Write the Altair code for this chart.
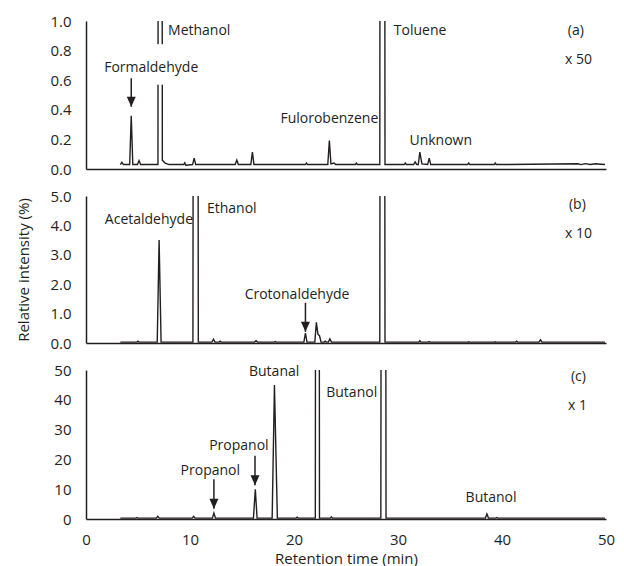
import altair as alt
import pandas as pd

INK = "#231f20"
FONT = "Open Sans"

# ---- chromatogram vertices (retention time min, relative intensity %) ----
trace_a = [(3.3, .03), (3.45, .045), (3.6, .03), (4.2, .03), (4.35, .36), (4.5, .03),
           (4.95, .03), (5.1, .057), (5.25, .03), (6.92, .03), (7.12, 20), (7.34, .06),
           (7.6, .04), (8.0, .03), (9.4, .03), (9.5, .042), (9.6, .025), (10.25, .03),
           (10.4, .073), (10.55, .03), (14.35, .03), (14.5, .06), (14.65, .03),
           (15.85, .03), (16.0, .114), (16.15, .03), (21.1, .03), (21.2, .04), (21.3, .03),
           (23.25, .03), (23.4, .193), (23.55, .035), (23.85, .04), (24.0, .03),
           (25.9, .03), (26.0, .04), (26.1, .03), (28.25, .03), (28.5, 20), (28.75, .03),
           (30.6, .03), (30.7, .04), (30.8, .03), (31.5, .03), (31.65, .048), (31.8, .03),
           (31.95, .03), (32.1, .114), (32.3, .035), (32.85, .03), (33.0, .073), (33.15, .03),
           (36.7, .03), (36.8, .04), (36.9, .03), (39.25, .03), (39.35, .04), (39.45, .03),
           (47.3, .035), (47.6, .03), (48.0, .036), (48.5, .03), (49.0, .035), (49.5, .032),
           (49.9, .03)]

trace_b = [(3.3, .03), (4.9, .03), (5.0, .06), (5.1, .03), (6.85, .03), (7.03, 3.5), (7.22, .03),
           (10.28, .03), (10.55, 80), (10.8, .03), (12.1, .03), (12.26, .13), (12.4, .03),
           (12.8, .03), (12.9, .06), (13.0, .03), (16.2, .03), (16.35, .08), (16.5, .03),
           (18.1, .03), (18.2, .05), (18.3, .03), (20.95, .03), (21.1, .34), (21.25, .03),
           (22.0, .03), (22.15, .70), (22.3, .3), (22.45, .25), (22.6, .03), (22.9, .03),
           (23.0, .06), (23.1, .03), (23.3, .03), (23.45, .14), (23.6, .03), (28.25, .03),
           (28.5, 80), (28.75, .03), (32.0, .03), (32.1, .08), (32.2, .03), (32.9, .03),
           (33.0, .05), (33.1, .03), (36.7, .03), (36.8, .04), (36.9, .03), (39.25, .03),
           (39.35, .04), (39.45, .03), (41.3, .03), (41.4, .06), (41.5, .03), (43.55, .03),
           (43.7, .11), (43.85, .03), (49.9, .03)]

trace_c = [(3.3, .3), (4.8, .3), (4.9, .5), (5.0, .3), (6.75, .3), (6.9, .9), (7.05, .3),
           (10.2, .3), (10.35, .9), (10.5, .3), (12.15, .3), (12.3, 2.0), (12.45, .3),
           (16.1, .3), (16.28, 10), (16.45, .3), (17.9, .3), (18.12, 45), (18.4, .3),
           (20.2, .3), (20.3, .6), (20.4, .3), (22.05, .3), (22.25, 800), (22.45, .3),
           (23.5, .3), (23.6, .7), (23.7, .3), (28.35, .3), (28.6, 800), (28.85, .3),
           (38.4, .3), (38.55, 1.7), (38.7, .3), (39.4, .3), (39.5, .5), (39.6, .3),
           (49.9, .3)]

# ---- annotations: (t, y, text) ----
labels_a_left = [(7.89, .947, "Methanol"), (29.6, .947, "Toluene"), (31.1, .204, "Unknown")]
labels_a_center = [(6.27, .695, "Formaldehyde"), (47.1, .943, "(a)"), (47.35, .75, "x 50")]
labels_a_right = [(28.1, .354, "Fulorobenzene")]
labels_b_left = [(1.81, 4.24, "Acetaldehyde"), (11.63, 4.63, "Ethanol")]
labels_b_center = [(20.29, 1.69, "Crotonaldehyde"), (47.25, 4.77, "(b)"), (47.35, 3.78, "x 10")]
labels_c_left = [(23.1, 43.0, "Butanol")]
labels_c_center = [(11.95, 16.9, "Propanol"), (14.7, 25.2, "Propanol"), (18.09, 50.0, "Butanal"),
                   (38.95, 7.65, "Butanol"), (47.35, 48.3, "(c)"), (47.25, 38.7, "x 1")]

# arrows: (t, y_top, y_tip)
arrows_a = [(4.35, 0.613, 0.42)]
arrows_b = [(21.1, 1.37, 0.38)]
arrows_c = [(12.3, 13.3, 3.4), (16.25, 21.2, 11.3)]

# white break across the Methanol peak: (t0, t1, y0, y1)
break_a = [(6.7, 7.6, 0.57, 0.843)]

W = 520
HEAD = "M-0.45,-1 L0.45,-1 L0,0 Z"


def tdf(pairs):
    return pd.DataFrame(pairs, columns=["t", "v"])


def ldf(items):
    return pd.DataFrame(items, columns=["t", "v", "label"])


def adf(items):
    return pd.DataFrame(items, columns=["t", "v", "tip"])


def panel(trace, ymax, yvals, yfmt, texts, arrows, height, last=False, ytitle=False, brk=None):
    xscale = alt.Scale(domain=[0, 50], nice=False, zero=False)
    yscale = alt.Scale(domain=[0, ymax], nice=False)
    if last:
        xaxis = alt.Axis(values=[0, 10, 20, 30, 40, 50], format="d", labelPadding=13,
                         title="Retention time (min)", titlePadding=4)
    else:
        xaxis = alt.Axis(labels=False, title=None)
    if ytitle:
        yaxis = alt.Axis(values=yvals, format=yfmt, title="Relative intensity (%)",
                         titlePadding=18)
    else:
        yaxis = alt.Axis(values=yvals, format=yfmt, title=None)

    def X(f):
        return alt.X(f, scale=xscale, axis=xaxis)

    def Y(f):
        return alt.Y(f, scale=yscale, axis=yaxis)

    layers = [alt.Chart(tdf(trace)).mark_line(clip=True, color=INK, strokeWidth=1.4).encode(
        x=X("t:Q"), y=Y("v:Q"))]
    if brk:
        bdf = pd.DataFrame(brk, columns=["t0", "t1", "y0", "y1"])
        layers.append(alt.Chart(bdf).mark_rect(color="white").encode(
            x=X("t0:Q"), x2="t1", y=Y("y0:Q"), y2="y1"))
    a = adf(arrows)
    layers.append(alt.Chart(a).mark_rule(color=INK, strokeWidth=1.5).encode(
        x=X("t:Q"), y=Y("v:Q"), y2="tip"))
    layers.append(alt.Chart(a).mark_point(shape=HEAD, size=400, filled=True, color=INK,
                                          opacity=1, strokeWidth=0).encode(
        x=X("t:Q"), y=Y("tip:Q")))
    for align, items in texts:
        if items:
            layers.append(alt.Chart(ldf(items)).mark_text(
                align=align, baseline="middle", dy=2, font=FONT, fontSize=14,
                color=INK).encode(
                x=X("t:Q"), y=Y("v:Q"), text="label:N"))
    return alt.layer(*layers).properties(width=W, height=height)


pa = panel(trace_a, 1.0, [0, .2, .4, .6, .8, 1.0], ".1f",
           [("left", labels_a_left), ("center", labels_a_center), ("right", labels_a_right)],
           arrows_a, 148, brk=break_a)
pb = panel(trace_b, 5.0, [0, 1, 2, 3, 4, 5], ".1f",
           [("left", labels_b_left), ("center", labels_b_center)],
           arrows_b, 147, ytitle=True)
pc = panel(trace_c, 50, [0, 10, 20, 30, 40, 50], "d",
           [("left", labels_c_left), ("center", labels_c_center)],
           arrows_c, 149, last=True)

chart = alt.vconcat(pa, pb, pc, spacing=27, bounds="flush").resolve_scale(
    y="independent"
).properties(
    padding={"left": 8, "top": 6, "right": 0, "bottom": 0},
    background="white",
).configure_view(
    stroke=None
).configure_axis(
    ticks=False, grid=False, labelOverlap=False, labelFlush=False,
    labelFont=FONT, labelFontSize=15, labelColor=INK,
    titleFont=FONT, titleFontSize=15, titleFontWeight="normal", titleColor=INK,
    domainColor=INK, domainWidth=1.5,
).configure_axisY(
    labelPadding=15
)

chart.save("out.html", embed_options={"renderer": "svg", "actions": False})
